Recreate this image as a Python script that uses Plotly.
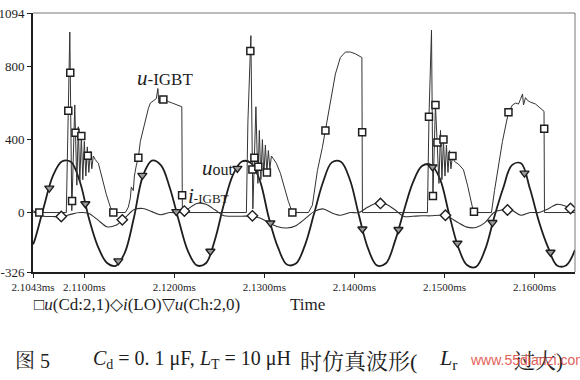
import plotly.graph_objects as go

# ---------------- data ----------------
# common time grid (ms) for the smooth waveforms
time_grid = [2.1043, 2.1045, 2.1055, 2.1065, 2.1075, 2.1085, 2.1095, 2.1105, 2.1115, 2.1125,
             2.1135, 2.1145, 2.1155, 2.1165, 2.1175, 2.1185, 2.1195, 2.1205, 2.1215, 2.1225,
             2.1235, 2.1245, 2.1255, 2.1265, 2.1275, 2.1285, 2.1295, 2.1305, 2.1315, 2.1325,
             2.1335, 2.1345, 2.1355, 2.1365, 2.1375, 2.1385, 2.1395, 2.1405, 2.1415, 2.1425,
             2.1435, 2.1445, 2.1455, 2.1465, 2.1475, 2.1485, 2.1495, 2.1505, 2.1515, 2.1525,
             2.1535, 2.1545, 2.1555, 2.1565, 2.1575, 2.1585, 2.1595, 2.1605, 2.1615, 2.1625,
             2.1635, 2.1645]

# u(Ch:2,0) = u_out
uout_v = [-175, -150, 30, 200, 280, 278, 170, -30, -185, -275, -292, -220, -30, 200, 285, 260,
          135, -45, -210, -290, -278, -150, 45, 205, 280, 272, 175, -30, -190, -285, -280, -180,
          -10, 165, 275, 278, 180, -15, -195, -290, -278, -158, 10, 165, 255, 262, 185, -5,
          -185, -288, -298, -205, -30, 130, 260, 270, 130, -50, -190, -290, -290, -205]

# i(LO) = i-IGBT
ilo_v = [10, 5, -20, -22, -22, -10, 0, -5, -40, -78, -70, -30, 15, 22, 5, -12,
         0, 0, 20, 50, 45, 15, -18, -20, -20, -20, -30, -55, -78, -85, -72, -35,
         5, 20, -2, -15, 0, 0, 30, 52, 45, 15, -22, -20, -18, -18, -15, -25,
         -55, -80, -82, -55, 0, 15, 12, -15, 0, 0, 20, 45, 35, 10]

# u(Cd:2,1) = u-IGBT
ucd_t = [2.10433, 2.10800, 2.10839, 2.10861, 2.10894, 2.10917, 2.10933, 2.10950, 2.10967, 2.10983,
         2.11000, 2.11017, 2.11033, 2.11050, 2.11067, 2.11083, 2.11100, 2.11122, 2.11156, 2.11200,
         2.11244, 2.11289, 2.11322,
         2.11456, 2.11489, 2.11511, 2.11522, 2.11544, 2.11556, 2.11578, 2.11600, 2.11622, 2.11656,
         2.11678, 2.11711, 2.11733, 2.11767, 2.11800, 2.11817, 2.11828, 2.11844, 2.11878, 2.11922,
         2.11978, 2.12033, 2.12083, 2.12089,
         2.12800, 2.12817, 2.12850, 2.12872, 2.12906, 2.12928, 2.12944, 2.12961, 2.12978, 2.12994,
         2.13011, 2.13028, 2.13044, 2.13061, 2.13078, 2.13100, 2.13133, 2.13178, 2.13222, 2.13267,
         2.13311,
         2.13489, 2.13533, 2.13589, 2.13644, 2.13678, 2.13733, 2.13789, 2.13844, 2.13900, 2.13956,
         2.14011, 2.14083, 2.14089,
         2.14811, 2.14828, 2.14856, 2.14872, 2.14900, 2.14922, 2.14939, 2.14956, 2.14972, 2.14989,
         2.15006, 2.15022, 2.15039, 2.15056, 2.15072, 2.15089, 2.15111, 2.15156, 2.15211, 2.15256,
         2.15289, 2.15317, 2.15333,
         2.15522, 2.15556, 2.15589, 2.15644, 2.15711, 2.15756, 2.15789, 2.15822, 2.15844, 2.15867,
         2.15878, 2.15900, 2.15922, 2.15956, 2.16011, 2.16067, 2.16106, 2.16111, 2.16456]
ucd_v = [0, 0, 990, 10, 590, 150, 470, 170, 420, 180,
         390, 200, 360, 220, 335, 240, 310, 290, 270, 180,
         100, 30, 0,
         0, 30, 80, 140, 120, 200, 260, 300, 390, 460,
         510, 570, 600, 615, 625, 680, 600, 630, 620, 610,
         600, 590, 580, 0,
         0, 500, 970, 20, 580, 160, 450, 180, 400, 200,
         370, 220, 340, 240, 310, 295, 270, 215, 140, 60,
         0,
         0, 40, 230, 357, 450, 620, 760, 850, 880, 880,
         870, 850, 0,
         0, 525, 1000, 90, 590, 384, 160, 450, 180, 400,
         200, 370, 220, 340, 240, 310, 280, 265, 235, 150,
         70, 15, 0,
         0, 120, 230, 390, 550, 590, 600, 595, 620, 650,
         590, 630, 615, 605, 595, 570, 555, 0, 0]

# marker samples shown on each curve
ucd_mark_t = [2.10500, 2.10822, 2.10844, 2.10864, 2.10902, 2.10967, 2.11039, 2.11322, 2.11600,
              2.11878, 2.12086, 2.12844, 2.12867, 2.12889, 2.12933, 2.13028, 2.13311, 2.13678,
              2.14086, 2.14828, 2.14872, 2.14900, 2.14922, 2.14989, 2.15089, 2.15328, 2.15711,
              2.16108]
ucd_mark_v = [0, 558, 767, 63, 437, 420, 311, 0, 300,
              620, 95, 885, 236, 300, 251, 220, 0, 450,
              440, 525, 90, 590, 384, 400, 310, 5, 550,
              460]

ilo_mark_t = [2.10744, 2.11422, 2.12111, 2.12867, 2.14289, 2.15011, 2.15700, 2.16400]
ilo_mark_v = [-22, -40, 8, -18, 50, -15, 14, 22]

uout_mark_t = [2.10611, 2.11011, 2.11378, 2.11644, 2.12022, 2.12400, 2.12700, 2.13067,
               2.14089, 2.14489, 2.14867, 2.15144, 2.15533, 2.15889, 2.16178]
uout_mark_v = [134, 48, -265, 204, 5, -212, 242, -57,
               -90, -93, 250, -168, -55, 216, -218]

x_tickvals = [2.1043, 2.11, 2.12, 2.13, 2.14, 2.15, 2.16]
x_ticktext = ["2.1043ms", "2.1100ms", "2.1200ms", "2.1300ms", "2.1400ms", "2.1500ms", "2.1600ms"]
y_tickvals = [-326, 0, 400, 800, 1094]
y_ticktext = ["-326", "0", "400", "800", "1094"]

# ---------------- figure ----------------
SERIF = "Liberation Serif, Times New Roman, serif"
CAP = "Liberation Serif, Noto Serif CJK SC, Noto Sans CJK SC, serif"
INK = "#1e1e1e"

fig = go.Figure()
fig.add_trace(go.Scatter(x=time_grid, y=uout_v, mode="lines",
                         line=dict(color=INK, width=1.8, shape="spline", smoothing=1.0),
                         hoverinfo="skip"))
fig.add_trace(go.Scatter(x=ucd_t, y=ucd_v, mode="lines",
                         line=dict(color="#333333", width=1.0), hoverinfo="skip"))
fig.add_trace(go.Scatter(x=time_grid, y=ilo_v, mode="lines",
                         line=dict(color="#333333", width=1.1, shape="spline", smoothing=0.8),
                         hoverinfo="skip"))
fig.add_trace(go.Scatter(x=ucd_mark_t, y=ucd_mark_v, mode="markers",
                         marker=dict(symbol="square", size=7, color="white",
                                     line=dict(color=INK, width=1.5)), hoverinfo="skip"))
fig.add_trace(go.Scatter(x=ilo_mark_t, y=ilo_mark_v, mode="markers",
                         marker=dict(symbol="diamond", size=8, color="white",
                                     line=dict(color=INK, width=1.4)), hoverinfo="skip"))
fig.add_trace(go.Scatter(x=uout_mark_t, y=uout_mark_v, mode="markers",
                         marker=dict(symbol="triangle-down", size=8, color="#9a9a9a",
                                     line=dict(color=INK, width=1.4)), hoverinfo="skip"))

fig.update_layout(
    width=580, height=380, autosize=False,
    margin=dict(l=33, r=5, t=13, b=108, autoexpand=False),
    paper_bgcolor="white", plot_bgcolor="white",
    showlegend=False,
    font=dict(family=SERIF, color=INK),
    xaxis=dict(range=[2.1043, 2.1645], tickmode="array", tickvals=x_tickvals, ticktext=x_ticktext,
               ticks="outside", ticklen=4, tickwidth=1, tickcolor=INK, automargin=False,
               ticklabeloverflow="allow",
               showline=True, linecolor=INK, linewidth=2, showgrid=False, zeroline=False,
               tickfont=dict(family=SERIF, size=11, color=INK)),
    yaxis=dict(range=[-326, 1094], tickmode="array", tickvals=y_tickvals, ticktext=y_ticktext,
               ticks="outside", ticklen=4, tickwidth=1, tickcolor=INK, automargin=False,
               ticklabeloverflow="allow",
               showline=True, linecolor=INK, linewidth=2, showgrid=False, zeroline=False,
               tickfont=dict(family=SERIF, size=13, color=INK)),
    shapes=[
        dict(type="line", xref="paper", yref="paper", x0=0, x1=1, y0=1, y1=1,
             line=dict(color="#777777", width=1)),
        dict(type="line", xref="paper", yref="paper", x0=1, x1=1, y0=0, y1=1,
             line=dict(color="#777777", width=1)),
    ],
)

ann = []
# in-plot labels
ann.append(dict(x=2.11567, y=735, xref="x", yref="y", xanchor="left", yanchor="middle", align="left",
                text="<span style='font-size:21px'><i>u</i></span>-IGBT", showarrow=False,
                font=dict(family=SERIF, size=17, color=INK)))
ann.append(dict(x=2.12289, y=243, xref="x", yref="y", xanchor="left", yanchor="middle", align="left",
                text="<span style='font-size:21px'><i>u</i></span>out", showarrow=False,
                font=dict(family=SERIF, size=16, color=INK)))
ann.append(dict(x=2.12133, y=90, xref="x", yref="y", xanchor="left", yanchor="middle", align="left",
                text="<span style='font-size:21px'><i>i</i></span>-IGBT", showarrow=False,
                font=dict(family=SERIF, size=13, color=INK)))
# legend line under axis
ann.append(dict(x=-0.002, y=-0.124, xref="paper", yref="paper", xanchor="left", yanchor="middle",
                align="left", text="□<i>u</i>(Cd:2,1)◇<i>i</i>(LO)▽<i>u</i>(Ch:2,0)", showarrow=False,
                font=dict(family=SERIF, size=17, color=INK)))
ann.append(dict(x=0.4705, y=-0.127, xref="paper", yref="paper", xanchor="left", yanchor="middle",
                align="left", text="Time", showarrow=False, font=dict(family=SERIF, size=17, color=INK)))
# caption (paper x = (px - 33) / 542)
ann.append(dict(x=-0.037, y=-0.344, xref="paper", yref="paper", xanchor="left", yanchor="middle",
                align="left", text="图 5", showarrow=False, font=dict(family=CAP, size=20, color=INK)))
ann.append(dict(x=0.107, y=-0.336, xref="paper", yref="paper", xanchor="left", yanchor="middle",
                align="left", text="<i>C</i><sub>d</sub> = 0. 1 μF, <i>L</i><sub>T</sub> = 10 μH",
                showarrow=False, font=dict(family=CAP, size=20, color=INK)))
ann.append(dict(x=0.489, y=-0.344, xref="paper", yref="paper", xanchor="left", yanchor="middle",
                align="left", text="时仿真波形(",
                showarrow=False, font=dict(family=CAP, size=22, color=INK)))
ann.append(dict(x=0.745, y=-0.336, xref="paper", yref="paper", xanchor="left", yanchor="middle",
                align="left", text="<i>L</i><sub>r</sub>",
                showarrow=False, font=dict(family=CAP, size=22, color=INK)))
ann.append(dict(x=0.884, y=-0.344, xref="paper", yref="paper", xanchor="left", yanchor="middle",
                align="left", text="过大)",
                showarrow=False, font=dict(family=CAP, size=21, color=INK)))
ann.append(dict(x=0.8026, y=-0.34, xref="paper", yref="paper", xanchor="left", yanchor="middle",
                align="left", text="www.55dianzi.com", showarrow=False, opacity=0.85,
                font=dict(family="Liberation Sans, Arial, sans-serif", size=14, color="#e0453c")))
fig.update_layout(annotations=ann)

# remove the default 8px page margin so the 580x380 figure fills the window exactly
fig.write_html("out.html", include_plotlyjs=True, config={"displayModeBar": False},
               post_script="document.body.style.margin='0px';document.body.style.padding='0px';")
